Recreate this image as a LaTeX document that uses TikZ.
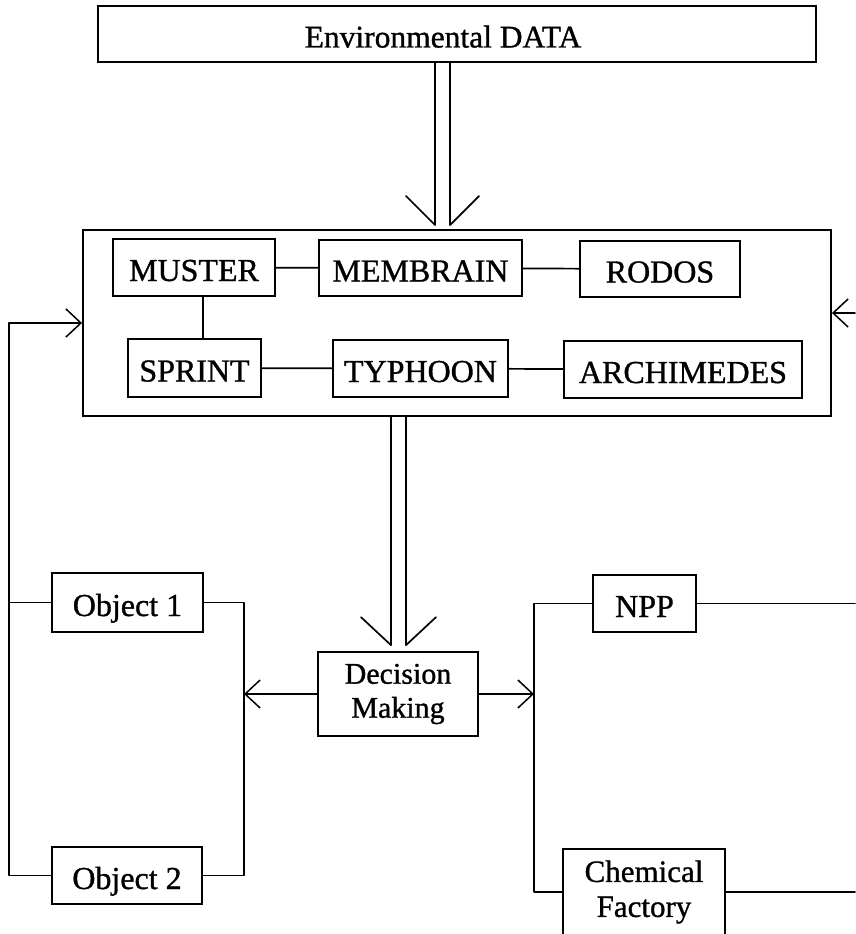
\documentclass[tikz,border=0pt]{standalone}
\usepackage{fontspec}
\setmainfont{Liberation Serif}[FakeBold=1]
\usetikzlibrary{arrows.meta}
\begin{document}
\begin{tikzpicture}[x=1pt,y=-1pt,
  box/.style={draw, line width=1.7pt, inner sep=0pt, font=\fontsize{32}{36}\selectfont, align=center},
  one/.style={text height=27pt, text depth=0pt},
  lnk/.style={line width=1.7pt, line join=round, line cap=round},
  barb/.style={lnk, -{Straight Barb[length=15pt,width=28pt,line width=1.5pt]}},
]
\useasboundingbox[fill=white] (0,0) rectangle (855,934);

% nodes
\node[box, one, font=\fontsize{31.5}{36}\selectfont, minimum width=718pt, minimum height=56pt] (env) at (457,34) {\hspace*{-28pt}Environmental DATA};
\node[draw, line width=1.9pt, inner sep=0pt, minimum width=748pt, minimum height=186pt] (group) at (457,323) {};
\node[box, one, minimum width=162pt, minimum height=57pt] (muster) at (194,267.5) {MUSTER};
\node[box, one, minimum width=203pt, minimum height=56pt] (membrain) at (420.5,268) {MEMBRAIN};
\node[box, one, minimum width=160pt, minimum height=56pt] (rodos) at (660,269) {RODOS};
\node[box, one, minimum width=133pt, minimum height=58pt] (sprint) at (194.5,368) {SPRINT};
\node[box, one, minimum width=175pt, minimum height=57pt] (typhoon) at (420.5,368.5) {TYPHOON};
\node[box, one, minimum width=238pt, minimum height=57pt] (archimedes) at (683,369.5) {ARCHIMEDES};
\node[box, one, minimum width=151pt, minimum height=59pt] (obj1) at (127.5,602.5) {Object 1};
\node[box, one, minimum width=150pt, minimum height=57pt] (obj2) at (127,875.5) {Object 2};
\node[box, font=\fontsize{30}{34}\selectfont, minimum width=160pt, minimum height=84pt] (dm) at (398,694) {Decision\\Making};
\node[box, one, minimum width=103pt, minimum height=57pt] (npp) at (644.5,603.5) {NPP};
\node[box, font=\fontsize{31}{35}\selectfont, minimum width=162pt, minimum height=86pt] (chem) at (644,892) {Chemical\\Factory};

% helper coordinates
\coordinate (lx) at (9,0);
\coordinate (cl) at (244,0);
\coordinate (cr) at (534,0);
\coordinate (edge) at (855,0);
\coordinate (rin) at (855,313);

% links inside the group
\draw[lnk] (muster) -- (membrain);
\draw[lnk] (membrain) -- (rodos);
\draw[lnk] (sprint) -- (typhoon);
\draw[lnk] (typhoon) -- (archimedes);
\path (muster.south) ++(9,0) coordinate (ms);
\draw[lnk] (ms) -- (ms |- sprint.north);

% double arrow: environmental data -> group
\path (env.south) ++(-22,0) coordinate (a1s);
\path (env.south) ++(-7,0) coordinate (a2s);
\path (a1s |- group.north) ++(0,-4) coordinate (a1t);
\path (a2s |- group.north) ++(0,-4) coordinate (a2t);
\draw[lnk] (a1s) -- (a1t) -- ++(-29,-29);
\draw[lnk] (a2s) -- (a2t) -- ++(29,-29);

% double arrow: group -> decision making
\path (dm.north) ++(-7,0) coordinate (b1);
\path (dm.north) ++(8,0) coordinate (b2);
\path (b1 |- group.south) coordinate (b1s);
\path (b2 |- group.south) coordinate (b2s);
\path (b1) ++(0,-6) coordinate (b1t);
\path (b2) ++(0,-6) coordinate (b2t);
\draw[lnk] (b1s) -- (b1t) -- ++(-30,-28);
\draw[lnk] (b2s) -- (b2t) -- ++(30,-28);

% left feedback loop
\draw[barb] (obj2.west) -- (obj2.west -| lx) |- (group.west);
\draw[lnk] (obj1.west) -- (obj1.west -| lx);

% objects column
\draw[lnk] (obj1.east) -- (obj1.east -| cl) -- (obj2.east -| cl) -- (obj2.east);
\draw[barb] (dm.west) -- (dm.west -| cl);

% plants column
\draw[lnk] (npp.west) -- (npp.west -| cr) -- (chem.west -| cr) -- (chem.west);
\draw[barb] (dm.east) -- (dm.east -| cr);
\draw[lnk] (npp.east) -- (npp.east -| edge);
\draw[lnk] (chem.east) -- (chem.east -| edge);

% right feedback
\draw[barb] (rin) -- (rin -| group.east);
\end{tikzpicture}
\end{document}
